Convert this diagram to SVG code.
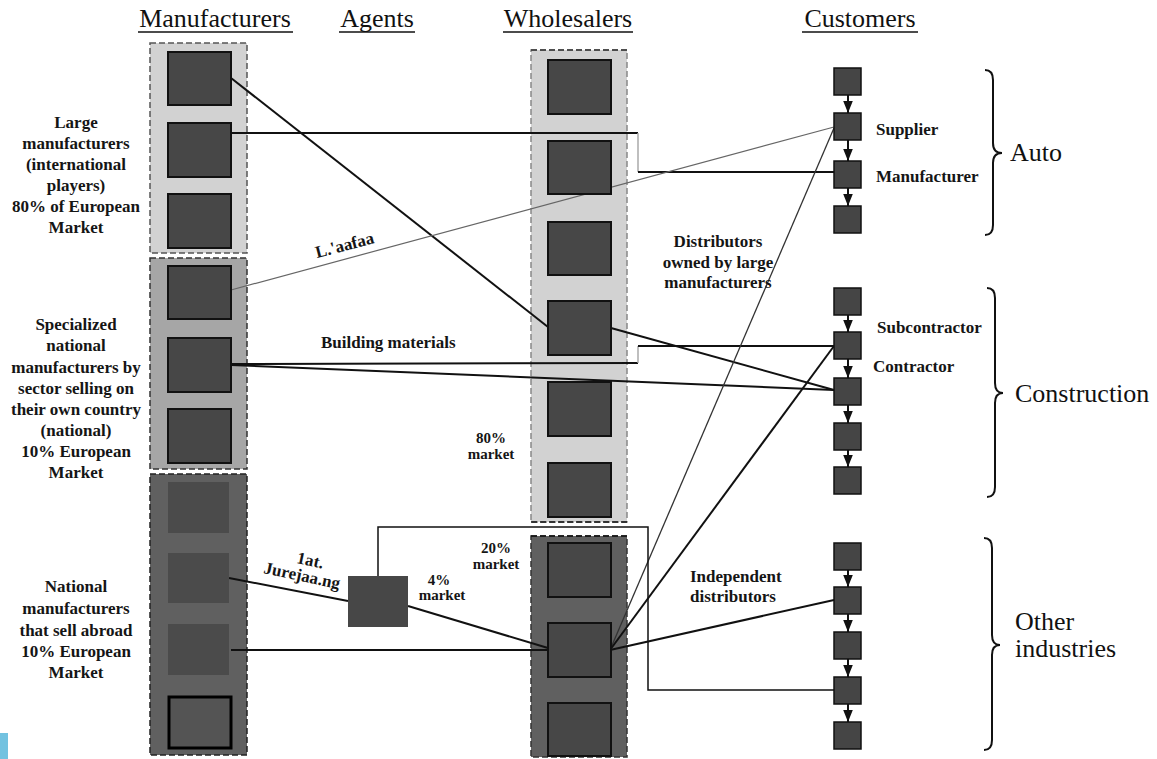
<svg xmlns="http://www.w3.org/2000/svg" width="1157" height="759" viewBox="0 0 1157 759">
<defs>
<style>
.hdr{font-family:"Liberation Serif",serif;font-size:26px;fill:#111}
.ul{stroke:#111;stroke-width:1.5}
.lbl{font-family:"Liberation Serif",serif;font-weight:bold;font-size:17px;fill:#151515}
.mid{text-anchor:middle}
.sm{font-size:15px}
.big{font-family:"Liberation Serif",serif;font-size:26px;fill:#111}
.box{fill:#474747;stroke:#111;stroke-width:2}
.mbox{fill:#4b4b4b}
.cbox{fill:#454545;stroke:#111;stroke-width:1.5}
.sec{stroke-dasharray:6,3;stroke-width:1.5}
.ln{fill:none;stroke:#111;stroke-width:2}
.thin{fill:none;stroke:#666;stroke-width:1.2}
.arr{stroke:#111;stroke-width:2;marker-end:url(#ah)}
.brace{fill:none;stroke:#111;stroke-width:2}
</style>
<marker id="ah" viewBox="0 0 10 8" refX="10" refY="4" markerWidth="6" markerHeight="5" orient="auto" markerUnits="strokeWidth">
<path d="M0,0 L10,4 L0,8 Z" fill="#111"/>
</marker>
</defs>
<rect width="1157" height="759" fill="#fff"/>
<rect x="0" y="733" width="8" height="26" fill="#72c2e0"/>

<!-- headers -->
<g id="headers">
<text class="hdr mid" x="215" y="27">Manufacturers</text>
<line class="ul" x1="138" y1="32" x2="293" y2="32"/>
<text class="hdr mid" x="377" y="27">Agents</text>
<line class="ul" x1="339" y1="32" x2="415" y2="32"/>
<text class="hdr mid" x="568" y="27">Wholesalers</text>
<line class="ul" x1="503" y1="32" x2="633" y2="32"/>
<text class="hdr mid" x="860" y="27">Customers</text>
<line class="ul" x1="802" y1="32" x2="918" y2="32"/>
</g>

<!-- manufacturer column sections -->
<g id="mfr-sections">
<rect class="sec" x="150" y="43" width="97" height="210" fill="#d2d2d2" stroke="#555"/>
<rect class="sec" x="150" y="258" width="97" height="211" fill="#a6a6a6" stroke="#333"/>
<rect class="sec" x="150" y="474" width="97" height="281" fill="#606060" stroke="#222"/>
</g>

<!-- wholesaler column sections -->
<g id="wh-sections">
<rect class="sec" x="531" y="50" width="96" height="472" fill="#d2d2d2" stroke="#888"/>
<line class="sec" x1="531" y1="50" x2="627" y2="50" stroke="#333"/>
<line class="sec" x1="531" y1="522" x2="627" y2="522" stroke="#111"/>
<rect class="sec" x="531" y="536" width="96" height="221" fill="#606060" stroke="#333"/>
<line class="sec" x1="531" y1="536" x2="627" y2="536" stroke="#111"/>
</g>

<!-- left labels -->
<g id="label-large">
<text class="lbl mid" x="76" y="128">Large</text>
<text class="lbl mid" x="76" y="149">manufacturers</text>
<text class="lbl mid" x="76" y="170">(international</text>
<text class="lbl mid" x="76" y="191">players)</text>
<text class="lbl mid" x="76" y="212">80% of European</text>
<text class="lbl mid" x="76" y="233">Market</text>
</g>
<g id="label-specialized">
<text class="lbl mid" x="76" y="330">Specialized</text>
<text class="lbl mid" x="76" y="351">national</text>
<text class="lbl mid" x="76" y="373">manufacturers by</text>
<text class="lbl mid" x="76" y="394">sector selling on</text>
<text class="lbl mid" x="76" y="415">their own country</text>
<text class="lbl mid" x="76" y="436">(national)</text>
<text class="lbl mid" x="76" y="457">10% European</text>
<text class="lbl mid" x="76" y="478">Market</text>
</g>
<g id="label-national">
<text class="lbl mid" x="76" y="592">National</text>
<text class="lbl mid" x="76" y="614">manufacturers</text>
<text class="lbl mid" x="76" y="636">that sell abroad</text>
<text class="lbl mid" x="76" y="657">10% European</text>
<text class="lbl mid" x="76" y="678">Market</text>
</g>

<!-- connectors -->
<g id="connectors">
<line class="ln" x1="231" y1="78" x2="548" y2="327"/>
<polyline class="ln" points="231,133 638,133"/>
<line x1="638" y1="133" x2="638" y2="172" stroke="#aaa" stroke-width="1.5"/>
<polyline class="ln" points="638,172 834,172"/>
<line class="thin" x1="231" y1="290" x2="834" y2="127"/>
<polyline class="ln" points="231,364 638,363"/>
<line x1="638" y1="363" x2="638" y2="346" stroke="#aaa" stroke-width="1.5"/>
<polyline class="ln" points="638,346 834,346"/>
<line class="ln" x1="231" y1="365" x2="834" y2="390"/>
<line class="ln" x1="611" y1="328" x2="834" y2="390"/>
<line fill="none" stroke="#333" stroke-width="1.3" x1="610" y1="650" x2="834" y2="128"/>
<line class="ln" x1="610" y1="650" x2="834" y2="346"/>
<line class="ln" x1="610" y1="650" x2="834" y2="600"/>
<line class="ln" x1="231" y1="650" x2="548" y2="650"/>
<line class="ln" x1="229" y1="578" x2="348" y2="601"/>
<line class="ln" x1="408" y1="606" x2="548" y2="648"/>
<polyline fill="none" stroke="#111" stroke-width="1.5" points="378,576 378,527 648,527 648,690 834,690"/>
</g>

<!-- manufacturer nodes -->
<g id="mfr-1"><rect class="box" x="168" y="52" width="63" height="53"/></g>
<g id="mfr-2"><rect class="box" x="168" y="123" width="63" height="54"/></g>
<g id="mfr-3"><rect class="box" x="168" y="194" width="63" height="54"/></g>
<g id="mfr-4"><rect class="box" x="168" y="266" width="63" height="53"/></g>
<g id="mfr-5"><rect class="box" x="168" y="338" width="63" height="54"/></g>
<g id="mfr-6"><rect class="box" x="168" y="409" width="63" height="54"/></g>
<g id="mfr-7"><rect class="mbox" x="168" y="482" width="61" height="51"/></g>
<g id="mfr-8"><rect class="mbox" x="168" y="553" width="61" height="50"/></g>
<g id="mfr-9"><rect class="mbox" x="168" y="624" width="61" height="51"/></g>
<g id="mfr-10"><rect x="169" y="697" width="62" height="51" fill="#545454" stroke="#000" stroke-width="3"/></g>

<!-- agent -->
<g id="agent"><rect x="348" y="576" width="60" height="51" fill="#474747"/></g>

<!-- wholesaler nodes -->
<g id="wh-1"><rect class="box" x="548" y="60" width="63" height="54"/></g>
<g id="wh-2"><rect class="box" x="548" y="141" width="63" height="53"/></g>
<g id="wh-3"><rect class="box" x="548" y="222" width="63" height="53"/></g>
<g id="wh-4"><rect class="box" x="548" y="301" width="63" height="54"/></g>
<g id="wh-5"><rect class="box" x="548" y="382" width="63" height="54"/></g>
<g id="wh-6"><rect class="box" x="548" y="463" width="63" height="54"/></g>
<g id="wh-7"><rect class="box" x="548" y="543" width="63" height="54"/></g>
<g id="wh-8"><rect class="box" x="548" y="623" width="63" height="54"/></g>
<g id="wh-9"><rect class="box" x="548" y="703" width="63" height="53"/></g>

<!-- customer arrows -->
<g id="customer-arrows">
<line class="arr" x1="848" y1="95" x2="848" y2="113"/>
<line class="arr" x1="848" y1="140" x2="848" y2="161"/>
<line class="arr" x1="848" y1="188" x2="848" y2="206"/>
<line class="arr" x1="848" y1="315" x2="848" y2="332"/>
<line class="arr" x1="848" y1="359" x2="848" y2="378"/>
<line class="arr" x1="848" y1="405" x2="848" y2="423"/>
<line class="arr" x1="848" y1="450" x2="848" y2="467"/>
<line class="arr" x1="848" y1="570" x2="848" y2="587"/>
<line class="arr" x1="848" y1="614" x2="848" y2="632"/>
<line class="arr" x1="848" y1="659" x2="848" y2="677"/>
<line class="arr" x1="848" y1="704" x2="848" y2="722"/>
</g>

<!-- customer nodes -->
<g id="auto-1"><rect class="cbox" x="834" y="68" width="27" height="27"/></g>
<g id="auto-supplier"><rect class="cbox" x="834" y="113" width="27" height="27"/></g>
<g id="auto-manufacturer"><rect class="cbox" x="834" y="161" width="27" height="27"/></g>
<g id="auto-4"><rect class="cbox" x="834" y="206" width="27" height="27"/></g>
<g id="con-1"><rect class="cbox" x="834" y="288" width="27" height="27"/></g>
<g id="con-subcontractor"><rect class="cbox" x="834" y="332" width="27" height="27"/></g>
<g id="con-contractor"><rect class="cbox" x="834" y="378" width="27" height="27"/></g>
<g id="con-4"><rect class="cbox" x="834" y="423" width="27" height="27"/></g>
<g id="con-5"><rect class="cbox" x="834" y="467" width="27" height="27"/></g>
<g id="oth-1"><rect class="cbox" x="834" y="543" width="27" height="27"/></g>
<g id="oth-2"><rect class="cbox" x="834" y="587" width="27" height="27"/></g>
<g id="oth-3"><rect class="cbox" x="834" y="632" width="27" height="27"/></g>
<g id="oth-4"><rect class="cbox" x="834" y="677" width="27" height="27"/></g>
<g id="oth-5"><rect class="cbox" x="834" y="722" width="27" height="27"/></g>

<!-- braces -->
<g id="brace-auto">
<path class="brace" d="M985,70 Q993,70 993,80 L993,143 Q993,153 1002,153 Q993,153 993,163 L993,225 Q993,235 985,235"/>
<text class="big" x="1010" y="161">Auto</text>
</g>
<g id="brace-construction">
<path class="brace" d="M987,288 Q995,288 995,298 L995,383 Q995,393 1003,393 Q995,393 995,403 L995,487 Q995,497 987,497"/>
<text class="big" x="1015" y="402">Construction</text>
</g>
<g id="brace-other">
<path class="brace" d="M984,538 Q992,538 992,548 L992,635 Q992,645 1000,645 Q992,645 992,655 L992,740 Q992,750 984,750"/>
<text class="big" x="1015" y="630">Other</text>
<text class="big" x="1015" y="657">industries</text>
</g>

<!-- in-diagram labels -->
<g id="labels">
<text class="lbl" x="876" y="135">Supplier</text>
<text class="lbl" x="876" y="182">Manufacturer</text>
<text class="lbl" x="877" y="333">Subcontractor</text>
<text class="lbl" x="873" y="372">Contractor</text>
<text class="lbl mid" x="718" y="247">Distributors</text>
<text class="lbl mid" x="718" y="268">owned by large</text>
<text class="lbl mid" x="718" y="288">manufacturers</text>
<text class="lbl" x="321" y="348">Building materials</text>
<text class="lbl mid sm" x="491" y="443">80%</text>
<text class="lbl mid sm" x="491" y="459">market</text>
<text class="lbl mid sm" x="496" y="553">20%</text>
<text class="lbl mid sm" x="496" y="569">market</text>
<text class="lbl mid sm" x="439" y="585">4%</text>
<text class="lbl mid sm" x="442" y="600">market</text>
<text class="lbl" x="690" y="582">Independent</text>
<text class="lbl" x="690" y="602">distributors</text>
<text class="lbl" font-size="13" transform="translate(317,258) rotate(-14.5)">L.'aafaa</text>
<text class="lbl" font-size="11" transform="translate(296,563) rotate(12)">1at.</text>
<text class="lbl" font-size="11" transform="translate(263,573) rotate(12)">Jurejaa.ng</text>
</g>
</svg>
